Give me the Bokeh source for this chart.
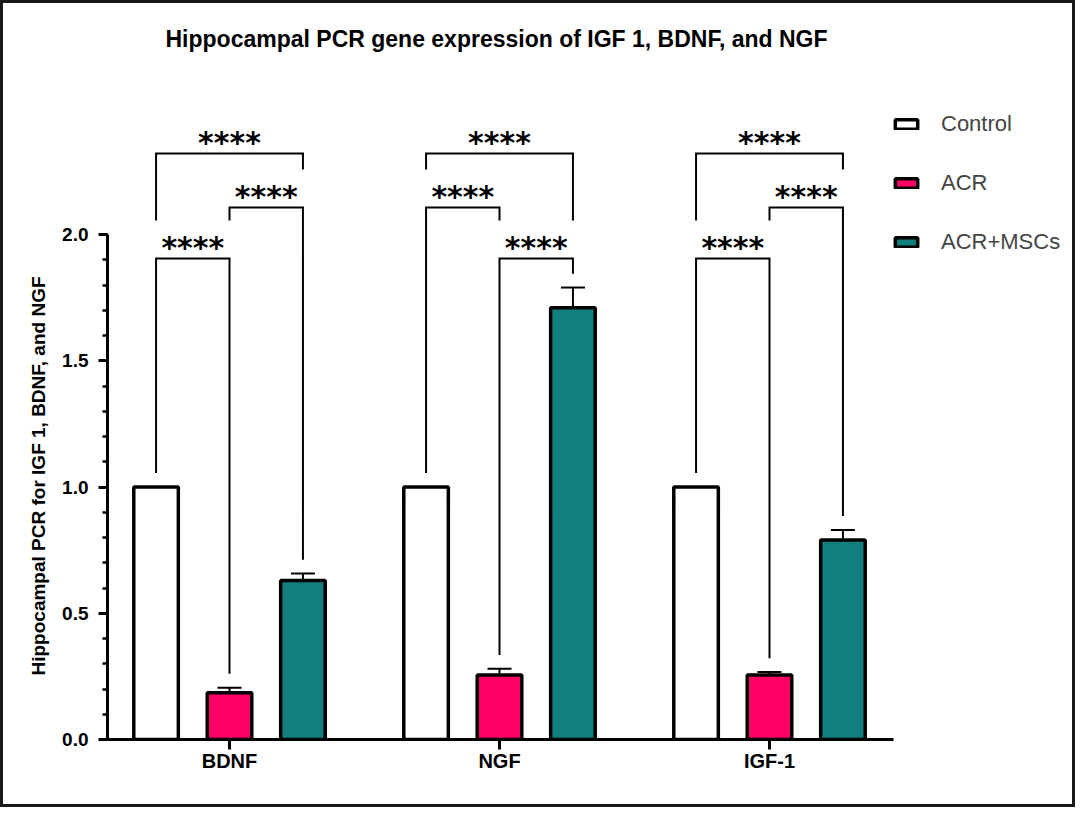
from bokeh.plotting import figure
from bokeh.models import (ColumnDataSource, Range1d, Whisker, TeeHead, Label, Legend,
                          LegendItem, FixedTicker, SingleIntervalTicker, PrintfTickFormatter,
                          Title)
from bokeh.core.properties import value
from bokeh.embed import file_html
from bokeh.resources import INLINE

# ---------------- data ----------------
genes = ["BDNF", "NGF", "IGF-1"]
groups = ["Control", "ACR", "ACR+MSCs"]
control_mean = [1.0, 1.0, 1.0]
control_err = [0.0, 0.0, 0.0]
acr_mean = [0.185, 0.255, 0.255]
acr_err = [0.020, 0.025, 0.012]
msc_mean = [0.630, 1.710, 0.790]
msc_err = [0.027, 0.080, 0.040]
# significance comparisons per gene: (group a, group b, tier)
comparisons = [
    [(0, 1, 0), (1, 2, 1), (0, 2, 2)],
    [(0, 1, 1), (1, 2, 0), (0, 2, 2)],
    [(0, 1, 0), (1, 2, 1), (0, 2, 2)],
]
sig_label = "****"
tier_levels = [1.905, 2.107, 2.321]

colors = ["#FFFFFF", "#FF0066", "#127F7E"]
FONT = "Liberation Sans"

# ---------------- geometry ----------------
BORDER = 3
W, H = 1075 - 2 * BORDER, 807 - 2 * BORDER      # css size (border added outside)
CW, CH = W + 2 * BORDER, H + 2 * BORDER          # canvas size bokeh lays out
LEFT, Y0 = 107 - BORDER, 739 - BORDER
BOTTOM = CH - Y0
PX_X, PX_Y = 270.0, 252.5
x_start = -122.0 / PX_X
x_end = x_start + (CW - LEFT) / PX_X
x_axis_end = x_start + 786.0 / PX_X
y_end = Y0 / PX_Y
offsets = [-0.272, 0.0, 0.272]
bar_w = 0.165

p = figure(width=W, height=H, x_range=Range1d(x_start, x_end), y_range=Range1d(0, y_end),
           output_backend="svg", toolbar_location=None, title=None,
           min_border_left=LEFT, min_border_bottom=BOTTOM, min_border_top=0, min_border_right=0)
p.styles = {"border": f"{BORDER}px solid #1a1a1a", "box-sizing": "content-box"}
p.xgrid.visible = False
p.ygrid.visible = False
p.outline_line_color = None
p.background_fill_color = "white"
p.border_fill_color = "white"

means = [control_mean, acr_mean, msc_mean]
errs = [control_err, acr_err, msc_err]
renderers = []
for k in range(3):
    xs = [g + offsets[k] for g in range(len(genes))]
    src = ColumnDataSource(dict(x=xs, top=means[k], err=errs[k],
                                upper=[m + e for m, e in zip(means[k], errs[k])],
                                lower=[m - e for m, e in zip(means[k], errs[k])]))
    r = p.vbar(x="x", top="top", bottom=0, width=bar_w, source=src,
               fill_color=colors[k], line_color="black", line_width=3.5)
    renderers.append(r)
    if any(e > 0 for e in errs[k]):
        wh = Whisker(base="x", upper="upper", lower="lower", source=src,
                     line_color="black", line_width=2,
                     upper_head=TeeHead(size=24, line_width=2, line_color="black"),
                     lower_head=TeeHead(size=24, line_width=2, line_color="black"))
        p.add_layout(wh)

# ---------------- significance brackets ----------------
bar_gap = 0.055
star_gap = 0.15
bx, by, sx, sy = [], [], [], []
for g, comps in enumerate(comparisons):
    tops = [means[k][g] + errs[k][g] for k in range(3)]
    for (a, b, t) in comps:
        lvl = tier_levels[t]
        ends = []
        for k in (a, b):
            end = tops[k] + bar_gap
            for (a2, b2, t2) in comps:
                if t2 < t and a2 <= k <= b2:
                    end = max(end, tier_levels[t2] + star_gap)
            ends.append(end)
        xa, xb = g + offsets[a], g + offsets[b]
        bx.append([xa, xa, xb, xb])
        by.append([ends[0], lvl, lvl, ends[1]])
        sx.append((xa + xb) / 2)
        sy.append(lvl + 11.0 / PX_Y)
p.multi_line(xs=bx, ys=by, line_color="black", line_width=2, line_join="miter")
p.text(x=sx, y=sy, text=[sig_label] * len(sx), text_align="center", text_baseline="alphabetic",
       text_font=value("DejaVu Sans"), text_font_style="bold", text_font_size="30px",
       text_color="black")

# ---------------- axes ----------------
xa_ = p.xaxis[0]
xa_.ticker = FixedTicker(ticks=list(range(len(genes))))
xa_.major_label_overrides = {i: gname for i, gname in enumerate(genes)}
xa_.bounds = (x_start, x_axis_end)
xa_.axis_line_width = 3
xa_.major_tick_in = 0
xa_.major_tick_out = 10
xa_.major_tick_line_width = 3
xa_.minor_tick_line_color = None
xa_.major_label_standoff = 0
xa_.major_label_text_font = FONT
xa_.major_label_text_font_style = "bold"
xa_.major_label_text_font_size = "20px"
xa_.major_label_text_color = "black"

ya = p.yaxis[0]
ya.ticker = SingleIntervalTicker(interval=0.5, num_minor_ticks=5)
ya.formatter = PrintfTickFormatter(format="%.1f")
ya.bounds = (0, 2.0)
ya.axis_line_width = 3
ya.major_tick_in = 0
ya.major_tick_out = 9
ya.major_tick_line_width = 3
ya.minor_tick_in = 0
ya.minor_tick_out = 5
ya.minor_tick_line_width = 2.5
ya.major_label_standoff = 10
ya.major_label_text_font = FONT
ya.major_label_text_font_style = "bold"
ya.major_label_text_font_size = "19px"
ya.major_label_text_color = "black"

ytitle = Title(text="Hippocampal PCR for IGF 1, BDNF, and NGF", align="left", offset=64,
               text_font=FONT, text_font_style="bold", text_font_size="19px",
               text_color="black", standoff=22)
p.add_layout(ytitle, "left")

# ---------------- title ----------------
title = Label(x=x_start + 389.0 / PX_X, y=(Y0 - 35.0) / PX_Y,
              text="Hippocampal PCR gene expression of IGF 1, BDNF, and NGF",
              text_align="center", text_baseline="middle", text_font=FONT, text_font_style="bold",
              text_font_size="23px", text_color="black")
p.add_layout(title)

# ---------------- legend ----------------
legend = Legend(items=[LegendItem(label=groups[k], renderers=[renderers[k]]) for k in range(3)],
                location=(785, 484), glyph_width=28, glyph_height=12, label_height=20,
                label_text_font=FONT, label_text_font_size="22px", label_standoff=21,
                spacing=33, padding=0, margin=0, border_line_color=None,
                background_fill_alpha=0)
p.add_layout(legend)

open("out.html", "w").write(file_html(p, INLINE))
